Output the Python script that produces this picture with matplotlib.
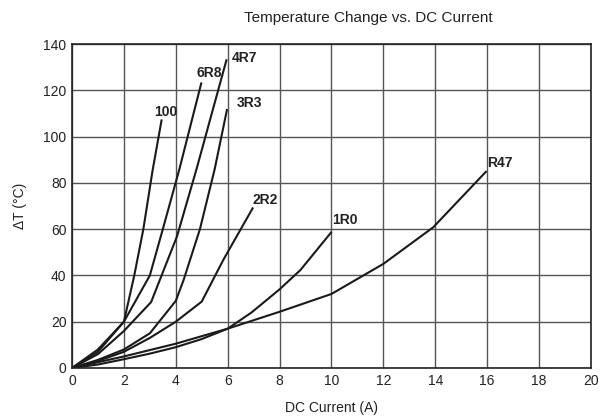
import matplotlib
matplotlib.use("Agg")
import matplotlib.pyplot as plt

plt.rcParams["font.family"] = ["Liberation Sans", "DejaVu Sans"]

# Kurven je Induktivitaet (Strom in A, Temperaturanstieg in °C)
i_100 = [0, 1, 2, 2.4, 2.75, 3.1, 3.45]
t_100 = [0, 8, 20, 40, 60, 85, 107]

i_6r8 = [0, 1, 2, 3, 3.5, 4.14, 4.98]
t_6r8 = [0, 7, 20, 40, 60, 86, 123]

i_4r7 = [0, 1, 2, 3.05, 4.05, 4.8, 5.95]
t_4r7 = [0, 6, 16, 28.5, 57, 86, 133]

i_3r3 = [0, 1, 2, 3, 4.0, 4.3, 4.93, 5.5, 5.97]
t_3r3 = [0, 3.5, 8, 15, 29, 38, 60, 86, 111.5]

i_2r2 = [0, 1, 2, 3, 4, 5, 5.83, 6.96]
t_2r2 = [0, 3, 7, 13, 20, 28.7, 46.7, 69]

i_1r0 = [0, 1, 2, 3, 4, 5, 6, 6.92, 8, 8.8, 9.98]
t_1r0 = [0, 1.5, 3.8, 6.2, 9, 12.5, 17, 24, 34, 42.3, 58.5]

i_r47 = [0, 1, 2, 4, 6, 8, 10, 12, 13.92, 15.95]
t_r47 = [0, 2.5, 5, 10.5, 17, 24.3, 32, 45, 60.8, 84.8]

kurven = [
    ("100", i_100, t_100, (3.6, 110.5)),
    ("6R8", i_6r8, t_6r8, (5.3, 127.5)),
    ("4R7", i_4r7, t_4r7, (6.65, 134)),
    ("3R3", i_3r3, t_3r3, (6.85, 114.5)),
    ("2R2", i_2r2, t_2r2, (7.45, 72.5)),
    ("1R0", i_1r0, t_1r0, (10.5, 64)),
    ("R47", i_r47, t_r47, (16.5, 88.5)),
]

fig = plt.figure(figsize=(6.03, 4.16), dpi=100)
ax = fig.add_axes([0.1194, 0.1154, 0.8606, 0.7786])

for name, x, y, pos in kurven:
    ax.plot(x, y, color="#1a1a1a", linewidth=1.5)
    ax.text(pos[0], pos[1], name, fontsize=10, fontweight="bold",
            ha="center", va="center", color="#222222")

ax.set_xlim(0, 20)
ax.set_ylim(0, 140)
ax.set_xticks(range(0, 21, 2))
ax.set_yticks(range(0, 141, 20))
ax.grid(True, color="#555555", linewidth=1)
ax.tick_params(length=0, labelsize=10, colors="#222222", pad=4)
for s in ax.spines.values():
    s.set_color("#222222")
    s.set_linewidth(1.2)

ax.set_xlabel("DC Current (A)", fontsize=10, color="#222222", labelpad=10)
ax.set_ylabel("ΔT (°C)", fontsize=10, color="#222222", labelpad=12)
fig.text(0.61, 0.957, "Temperature Change vs. DC Current", fontsize=11,
         ha="center", va="center", color="#222222")

plt.savefig("out.png", dpi=100)
